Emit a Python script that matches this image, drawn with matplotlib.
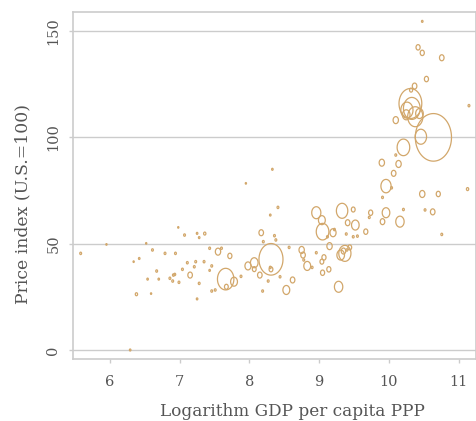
import numpy as np
import matplotlib
matplotlib.use("Agg")
import matplotlib.pyplot as plt
from matplotlib.path import Path

# ---- data: log GDP per capita (PPP), price index (U.S.=100), marker radius weight
log_gdp = [10.48, 10.42, 10.48, 10.76, 10.54, 11.15, 10.37, 10.32,
           10.31, 10.33, 10.26, 10.38, 10.44, 10.10, 10.25, 10.46, 10.64, 10.21,
           9.90, 10.14, 10.10, 10.07, 9.96, 10.04, 10.48, 10.71, 11.13, 9.91,
           10.21, 10.52, 10.63, 10.76, 9.96, 10.16, 9.91, 9.74, 9.72, 9.67,
           9.55, 9.49, 9.49, 9.52, 9.41, 9.39, 9.33, 8.96, 9.04, 9.05,
           9.20, 9.15, 9.22, 9.12, 9.40, 9.44, 9.37, 9.31, 9.35, 8.75,
           8.77, 8.83, 8.78, 8.57, 9.07, 9.04, 9.05, 9.14, 8.96, 8.90,
           8.31, 8.31, 8.17, 8.33, 7.95, 8.41, 8.30, 8.20, 8.36, 8.38,
           8.07, 7.98, 8.07, 8.15, 8.30, 8.44, 8.62, 7.55, 7.60, 7.72,
           7.43, 7.66, 7.78, 7.67, 7.46, 7.35, 7.23, 7.15, 7.11, 7.04,
           6.98, 7.07, 7.25, 7.28, 7.36, 6.94, 6.79, 6.61, 6.52, 6.42,
           6.34, 6.67, 6.91, 6.93, 6.86, 5.95, 5.58, 6.29, 6.38, 6.59,
           7.25, 7.28, 6.99, 6.90, 6.54, 6.70, 7.46, 7.51, 8.19, 8.27,
           8.53, 9.28, 7.21, 7.43, 7.88]
price_index = [154.4, 142.2, 139.6, 137.3, 127.3, 114.8, 124.0, 122.1,
               115.8, 113.5, 112.7, 109.6, 111.1, 108.0, 110.5, 100.2, 99.9, 95.2,
               88.0, 87.4, 91.6, 83.0, 77.0, 76.2, 73.3, 73.3, 75.6, 71.7,
               66.0, 65.8, 64.9, 54.3, 64.5, 60.3, 60.3, 64.5, 62.3, 55.6,
               53.5, 53.2, 66.0, 58.7, 59.8, 54.5, 65.4, 64.5, 61.0, 55.6,
               55.1, 48.8, 56.6, 53.2, 47.0, 48.2, 45.4, 44.6, 46.5, 47.0,
               44.6, 39.5, 42.3, 48.2, 43.5, 41.5, 36.3, 37.9, 45.7, 38.8,
               42.6, 37.9, 55.1, 84.9, 78.3, 67.0, 63.4, 50.9, 53.7, 51.7,
               41.0, 39.5, 38.0, 35.2, 38.8, 34.4, 32.9, 46.2, 47.8, 44.2,
               47.8, 33.3, 32.1, 29.7, 39.5, 41.5, 41.5, 35.2, 41.0, 37.9,
               57.6, 54.0, 54.8, 52.8, 54.7, 45.4, 45.4, 47.0, 50.1, 43.0,
               41.5, 37.1, 35.2, 35.5, 33.7, 49.6, 45.4, 0.0, 26.2, 26.5,
               24.0, 31.3, 31.8, 32.4, 33.3, 33.3, 27.7, 28.2, 27.7, 32.4,
               28.2, 29.7, 39.1, 37.4, 34.6]
radius = [1.0, 2.7, 2.7, 3.0, 2.7, 1.2, 3.0, 2.0,
          15.0, 11.0, 8.0, 10.0, 5.0, 3.5, 5.0, 7.5, 23.8, 8.3,
          3.5, 3.5, 1.2, 3.0, 6.7, 1.2, 3.5, 2.7, 1.5, 1.2,
          1.2, 1.2, 3.0, 1.2, 5.0, 5.5, 3.0, 2.7, 1.2, 2.7,
          1.2, 1.2, 2.5, 5.0, 3.0, 1.2, 7.5, 6.0, 4.5, 8.3,
          4.0, 3.5, 1.2, 1.2, 1.2, 2.5, 8.0, 5.0, 3.0, 3.5,
          3.0, 4.5, 1.2, 1.2, 2.7, 2.5, 2.7, 2.7, 1.2, 1.2,
          15.8, 2.5, 3.0, 1.0, 0.8, 1.2, 1.0, 1.2, 1.2, 1.2,
          5.0, 4.0, 2.5, 3.0, 1.2, 1.2, 3.0, 3.5, 1.2, 2.7,
          1.2, 10.8, 4.5, 2.5, 1.2, 1.2, 1.2, 3.0, 1.2, 1.2,
          0.8, 1.2, 1.0, 1.0, 1.5, 1.2, 1.2, 1.2, 0.8, 1.0,
          0.8, 1.2, 1.2, 1.2, 1.2, 0.8, 1.2, 1.0, 1.5, 0.8,
          1.0, 1.2, 1.2, 1.2, 1.0, 1.0, 1.2, 1.2, 1.2, 1.2,
          4.5, 5.5, 1.2, 1.0, 1.2]

x_ticks = [6, 7, 8, 9, 10, 11]
y_ticks = [0, 50, 100, 150]
x_label = "Logarithm GDP per capita PPP"
y_label = "Price index (U.S.=100)"

# ---- style
color = "#d2a76b"
grey = "#cccccc"
text_color = "#555555"
plt.rcParams["font.family"] = ["DejaVu Serif"]

W, H, DPI = 476, 421, 100
fig = plt.figure(figsize=(W / DPI, H / DPI), dpi=DPI)
ax_l, ax_r, ax_t, ax_b = 73, 476, 12, 359
ax = fig.add_axes([ax_l / W, 1 - ax_b / H, (ax_r - ax_l) / W, (ax_b - ax_t) / H])

# elliptical hollow marker (taller than wide)
th = np.linspace(0, 2 * np.pi, 73)
ell = Path(np.column_stack([0.76 * np.cos(th), np.sin(th)]), closed=True)

r = np.asarray(radius)
sizes = (2 * r * 0.72) ** 2
ax.scatter(log_gdp, price_index, s=sizes, marker=ell, facecolors="none",
           edgecolors=color, linewidths=0.9, zorder=3)

ax.set_xlim(5.47, 11.251)
ax.set_ylim(-4.23, 158.8)
ax.set_xticks(x_ticks)
ax.set_yticks(y_ticks)
ax.grid(axis="y", color=grey, linewidth=1.0, zorder=0)
ax.grid(axis="x", visible=False)
for sp in ax.spines.values():
    sp.set_color(grey)
    sp.set_linewidth(1.2)
ax.tick_params(axis="both", colors=grey, length=3, width=1.0,
               labelcolor=text_color, labelsize=10.5)
ax.tick_params(axis="x", pad=8.5)
ax.tick_params(axis="y", pad=6, labelrotation=90)
for lab in ax.get_yticklabels():
    lab.set_va("center")

ax.set_xlabel(x_label, fontsize=12.2, color=text_color, va="top")
ax.xaxis.set_label_coords((292 - ax_l) / (ax_r - ax_l), -(403 - ax_b) / (ax_b - ax_t))
ax.set_ylabel(y_label, fontsize=12.4, color=text_color, va="bottom")
ax.yaxis.set_label_coords((31 - ax_l) / (ax_r - ax_l), (ax_b - 204.3) / (ax_b - ax_t))

fig.savefig("out.png", dpi=DPI)
